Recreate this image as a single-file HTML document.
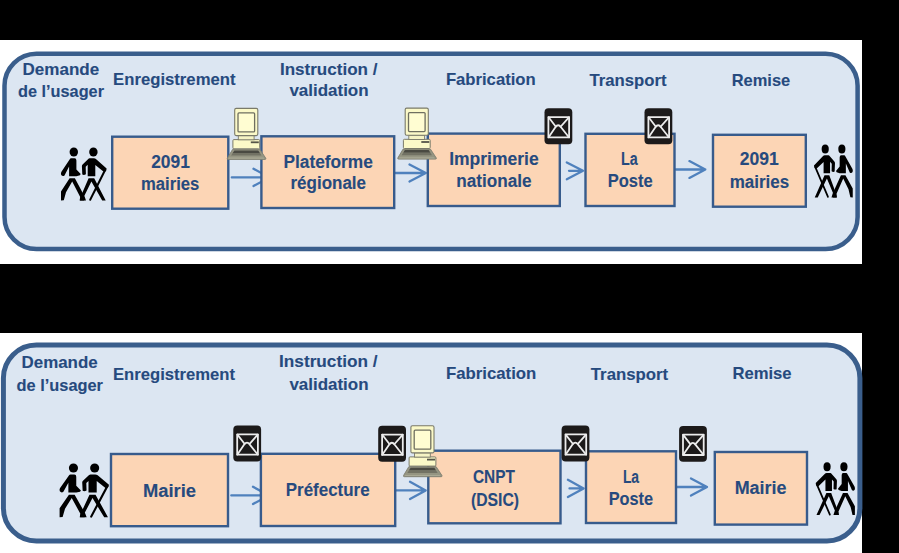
<!DOCTYPE html>
<html><head><meta charset="utf-8"><style>
html,body{margin:0;padding:0;background:#fff;width:899px;height:553px;overflow:hidden}
svg{display:block}
</style></head><body>
<svg width="899" height="553" viewBox="0 0 899 553">
<rect x="0" y="0" width="899" height="553" fill="#fff"/>
<rect x="0" y="0" width="899" height="40" fill="#000"/>
<rect x="0" y="264" width="899" height="69" fill="#000"/>
<rect x="862" y="0" width="37" height="553" fill="#000"/>
<rect x="4.5" y="53.7" width="853.1" height="195.3" rx="32" ry="32" fill="#dce6f2" stroke="#3a5e8c" stroke-width="4.5"/>
<rect x="3.4" y="345" width="856.5" height="196" rx="33" ry="33" fill="#dce6f2" stroke="#3a5e8c" stroke-width="5"/>
<path d="M231.8,177.4 L269.5,177.4 M253.5,168.8 L269.5,177.4 L253.5,186.0" fill="none" stroke="#4f81bd" stroke-width="2.3" stroke-linecap="round" stroke-linejoin="round"/>
<path d="M395.4,173.0 L425.8,173.0 M409.5,164.5 L425.8,173.0 L409.5,181.5" fill="none" stroke="#4f81bd" stroke-width="2.3" stroke-linecap="round" stroke-linejoin="round"/>
<path d="M569.0,170.8 L583.0,170.8 M566.8,162.4 L583.0,170.8 L566.8,179.20000000000002" fill="none" stroke="#4f81bd" stroke-width="2.3" stroke-linecap="round" stroke-linejoin="round"/>
<path d="M675.8,169.5 L705.3,169.5 M689.4,161.1 L705.3,169.5 L689.4,177.9" fill="none" stroke="#4f81bd" stroke-width="2.3" stroke-linecap="round" stroke-linejoin="round"/>
<path d="M231.3,495.4 L269.0,495.4 M253.0,486.79999999999995 L269.0,495.4 L253.0,504.0" fill="none" stroke="#4f81bd" stroke-width="2.3" stroke-linecap="round" stroke-linejoin="round"/>
<path d="M396.0,490.4 L425.7,490.4 M410.0,481.79999999999995 L425.7,490.4 L410.0,499.0" fill="none" stroke="#4f81bd" stroke-width="2.3" stroke-linecap="round" stroke-linejoin="round"/>
<path d="M569.5,488.4 L583.6,488.4 M567.9,479.79999999999995 L583.6,488.4 L567.9,497.0" fill="none" stroke="#4f81bd" stroke-width="2.3" stroke-linecap="round" stroke-linejoin="round"/>
<path d="M677.0,487.0 L707.0,487.0 M691.0,478.4 L707.0,487.0 L691.0,495.6" fill="none" stroke="#4f81bd" stroke-width="2.3" stroke-linecap="round" stroke-linejoin="round"/>
<rect x="112.2" y="136.7" width="116.1" height="72.0" fill="#fcd5b5" stroke="#375b8c" stroke-width="2.4"/>
<rect x="261.4" y="136.3" width="132.8" height="71.7" fill="#fcd5b5" stroke="#375b8c" stroke-width="2.4"/>
<rect x="427.8" y="133.6" width="132.0" height="72.4" fill="#fcd5b5" stroke="#375b8c" stroke-width="2.4"/>
<rect x="585.5" y="133.8" width="89.0" height="72.2" fill="#fcd5b5" stroke="#375b8c" stroke-width="2.4"/>
<rect x="713.0" y="134.8" width="92.8" height="71.9" fill="#fcd5b5" stroke="#375b8c" stroke-width="2.4"/>
<rect x="111.0" y="454.0" width="117.0" height="72.2" fill="#fcd5b5" stroke="#375b8c" stroke-width="2.4"/>
<rect x="260.9" y="453.8" width="134.3" height="72.2" fill="#fcd5b5" stroke="#375b8c" stroke-width="2.4"/>
<rect x="428.3" y="450.7" width="132.2" height="72.6" fill="#fcd5b5" stroke="#375b8c" stroke-width="2.4"/>
<rect x="586.0" y="451.3" width="90.0" height="71.7" fill="#fcd5b5" stroke="#375b8c" stroke-width="2.4"/>
<rect x="714.8" y="452.0" width="92.2" height="72.6" fill="#fcd5b5" stroke="#375b8c" stroke-width="2.4"/>
<g transform="translate(0,0)"><path d="M232.6,149.4 L259.9,149.4 L265.8,158.3 Q266.1,159.4 265,159.4 L228.1,159.4 Q227,159.4 227.3,158.3 Z" fill="#959582" stroke="#7e7e6f" stroke-width="0.9"/><path d="M234.4,150.4 L258.2,150.4 L259.9,153.1 L232.7,153.1 Z" fill="#4a4a42"/><path d="M232.7,153.1 L259.9,153.1 L261.5,155.6 L231.1,155.6 Z" fill="#727264"/><path d="M229.2,157.6 L263.6,157.6 L264.5,158.8 L228.4,158.8 Z" fill="#a9a995"/><rect x="232.9" y="139.6" width="26.8" height="9.2" rx="1" fill="#fbf9c8" stroke="#7a7a6a" stroke-width="1"/><rect x="250.8" y="141.4" width="8" height="1.8" fill="#55554a"/><rect x="238.3" y="135.5" width="15.8" height="4.3" fill="#f5f3c4" stroke="#7a7a6a" stroke-width="0.9"/><rect x="234.7" y="108.4" width="23.1" height="27.2" rx="1.5" fill="#fbf9c8" stroke="#7a7a6a" stroke-width="1.1"/><rect x="238" y="112.9" width="16.6" height="19" rx="1" fill="#fffdd2" stroke="#6f6f60" stroke-width="1.3"/></g>
<g transform="translate(170.5,-0.3)"><path d="M232.6,149.4 L259.9,149.4 L265.8,158.3 Q266.1,159.4 265,159.4 L228.1,159.4 Q227,159.4 227.3,158.3 Z" fill="#959582" stroke="#7e7e6f" stroke-width="0.9"/><path d="M234.4,150.4 L258.2,150.4 L259.9,153.1 L232.7,153.1 Z" fill="#4a4a42"/><path d="M232.7,153.1 L259.9,153.1 L261.5,155.6 L231.1,155.6 Z" fill="#727264"/><path d="M229.2,157.6 L263.6,157.6 L264.5,158.8 L228.4,158.8 Z" fill="#a9a995"/><rect x="232.9" y="139.6" width="26.8" height="9.2" rx="1" fill="#fbf9c8" stroke="#7a7a6a" stroke-width="1"/><rect x="250.8" y="141.4" width="8" height="1.8" fill="#55554a"/><rect x="238.3" y="135.5" width="15.8" height="4.3" fill="#f5f3c4" stroke="#7a7a6a" stroke-width="0.9"/><rect x="234.7" y="108.4" width="23.1" height="27.2" rx="1.5" fill="#fbf9c8" stroke="#7a7a6a" stroke-width="1.1"/><rect x="238" y="112.9" width="16.6" height="19" rx="1" fill="#fffdd2" stroke="#6f6f60" stroke-width="1.3"/></g>
<g transform="translate(176.2,317.3)"><path d="M232.6,149.4 L259.9,149.4 L265.8,158.3 Q266.1,159.4 265,159.4 L228.1,159.4 Q227,159.4 227.3,158.3 Z" fill="#959582" stroke="#7e7e6f" stroke-width="0.9"/><path d="M234.4,150.4 L258.2,150.4 L259.9,153.1 L232.7,153.1 Z" fill="#4a4a42"/><path d="M232.7,153.1 L259.9,153.1 L261.5,155.6 L231.1,155.6 Z" fill="#727264"/><path d="M229.2,157.6 L263.6,157.6 L264.5,158.8 L228.4,158.8 Z" fill="#a9a995"/><rect x="232.9" y="139.6" width="26.8" height="9.2" rx="1" fill="#fbf9c8" stroke="#7a7a6a" stroke-width="1"/><rect x="250.8" y="141.4" width="8" height="1.8" fill="#55554a"/><rect x="238.3" y="135.5" width="15.8" height="4.3" fill="#f5f3c4" stroke="#7a7a6a" stroke-width="0.9"/><rect x="234.7" y="108.4" width="23.1" height="27.2" rx="1.5" fill="#fbf9c8" stroke="#7a7a6a" stroke-width="1.1"/><rect x="238" y="112.9" width="16.6" height="19" rx="1" fill="#fffdd2" stroke="#6f6f60" stroke-width="1.3"/></g>
<g transform="translate(544.5,108.3)"><rect x="0" y="0" width="27.8" height="35.9" rx="4" fill="#1c1a1a"/><g fill="none" stroke="#ececec" stroke-width="1.8" stroke-linejoin="round" stroke-linecap="round"><rect x="3.9" y="8.8" width="20.7" height="20.3"/><path d="M4.1,28.9 L10.9,19.0 Q13.7,14.9 16.5,19.0 L24.4,28.9"/><path d="M4.1,9.0 L11.2,18.2 M24.4,9.0 L16.3,18.2"/></g></g>
<g transform="translate(644.5,108.3)"><rect x="0" y="0" width="27.8" height="35.9" rx="4" fill="#1c1a1a"/><g fill="none" stroke="#ececec" stroke-width="1.8" stroke-linejoin="round" stroke-linecap="round"><rect x="3.9" y="8.8" width="20.7" height="20.3"/><path d="M4.1,28.9 L10.9,19.0 Q13.7,14.9 16.5,19.0 L24.4,28.9"/><path d="M4.1,9.0 L11.2,18.2 M24.4,9.0 L16.3,18.2"/></g></g>
<g transform="translate(233.3,425.6)"><rect x="0" y="0" width="27.8" height="35.9" rx="4" fill="#1c1a1a"/><g fill="none" stroke="#ececec" stroke-width="1.8" stroke-linejoin="round" stroke-linecap="round"><rect x="3.9" y="8.8" width="20.7" height="20.3"/><path d="M4.1,28.9 L10.9,19.0 Q13.7,14.9 16.5,19.0 L24.4,28.9"/><path d="M4.1,9.0 L11.2,18.2 M24.4,9.0 L16.3,18.2"/></g></g>
<g transform="translate(378.2,425.8)"><rect x="0" y="0" width="27.8" height="35.9" rx="4" fill="#1c1a1a"/><g fill="none" stroke="#ececec" stroke-width="1.8" stroke-linejoin="round" stroke-linecap="round"><rect x="3.9" y="8.8" width="20.7" height="20.3"/><path d="M4.1,28.9 L10.9,19.0 Q13.7,14.9 16.5,19.0 L24.4,28.9"/><path d="M4.1,9.0 L11.2,18.2 M24.4,9.0 L16.3,18.2"/></g></g>
<g transform="translate(561.6,425.6)"><rect x="0" y="0" width="27.8" height="35.9" rx="4" fill="#1c1a1a"/><g fill="none" stroke="#ececec" stroke-width="1.8" stroke-linejoin="round" stroke-linecap="round"><rect x="3.9" y="8.8" width="20.7" height="20.3"/><path d="M4.1,28.9 L10.9,19.0 Q13.7,14.9 16.5,19.0 L24.4,28.9"/><path d="M4.1,9.0 L11.2,18.2 M24.4,9.0 L16.3,18.2"/></g></g>
<g transform="translate(679.1,425.9)"><rect x="0" y="0" width="27.8" height="35.9" rx="4" fill="#1c1a1a"/><g fill="none" stroke="#ececec" stroke-width="1.8" stroke-linejoin="round" stroke-linecap="round"><rect x="3.9" y="8.8" width="20.7" height="20.3"/><path d="M4.1,28.9 L10.9,19.0 Q13.7,14.9 16.5,19.0 L24.4,28.9"/><path d="M4.1,9.0 L11.2,18.2 M24.4,9.0 L16.3,18.2"/></g></g>
<g transform="" fill="#000"><ellipse cx="73.8" cy="152" rx="4.2" ry="4.5"/><path d="M71.2,158.3 L74.6,158.3 Q76.4,158.3 76.4,160.5 L76.4,169.4 L80.7,174.1 L79.9,175.3 L76.4,176.2 L69.1,176.2 L69.1,166.4 L64.5,175.4 Q62.8,176.8 61.2,175 Q60.6,173.4 61.3,172 L69.6,159.5 Q70.1,158.3 71.2,158.3 Z"/><path d="M69.6,178.2 L74.9,178.2 L84.6,196.6 L86,200.4 L79.6,200.4 L80.2,197 L72.2,181.6 L66,192.2 L63.8,200.3 L61,200.4 L61,191.6 Z"/><ellipse cx="93.4" cy="152" rx="4.2" ry="4.5"/><path d="M89.6,158.3 L93.8,158.3 Q95.3,158.3 96.2,159.2 L106.6,168.4 Q106.6,170.6 105.4,171.5 L103.4,171.6 L95.3,164.9 L95.3,176.2 L87.7,176.2 L87.7,164.8 L85.7,166.8 L85.9,174.2 Q84,175.4 82.3,174.5 L81.9,166.2 Q81.9,165.2 82.6,164.6 L88,159.2 Q88.8,158.3 89.6,158.3 Z"/><path d="M88.6,178.2 L94.2,178.2 L105.7,200.4 L102.2,200.4 L91.4,181.6 L84,196.5 L84.2,200.4 L80,200.4 L80.4,197.2 Z"/><path d="M104.6,171 L90.2,199.8" fill="none" stroke="#000" stroke-width="2" stroke-linecap="round"/></g>
<g transform="matrix(-0.85,0,0,1,904.6,-3)" fill="#000"><ellipse cx="73.8" cy="152" rx="4.2" ry="4.5"/><path d="M71.2,158.3 L74.6,158.3 Q76.4,158.3 76.4,160.5 L76.4,169.4 L80.7,174.1 L79.9,175.3 L76.4,176.2 L69.1,176.2 L69.1,166.4 L64.5,175.4 Q62.8,176.8 61.2,175 Q60.6,173.4 61.3,172 L69.6,159.5 Q70.1,158.3 71.2,158.3 Z"/><path d="M69.6,178.2 L74.9,178.2 L84.6,196.6 L86,200.4 L79.6,200.4 L80.2,197 L72.2,181.6 L66,192.2 L63.8,200.3 L61,200.4 L61,191.6 Z"/><ellipse cx="93.4" cy="152" rx="4.2" ry="4.5"/><path d="M89.6,158.3 L93.8,158.3 Q95.3,158.3 96.2,159.2 L106.6,168.4 Q106.6,170.6 105.4,171.5 L103.4,171.6 L95.3,164.9 L95.3,176.2 L87.7,176.2 L87.7,164.8 L85.7,166.8 L85.9,174.2 Q84,175.4 82.3,174.5 L81.9,166.2 Q81.9,165.2 82.6,164.6 L88,159.2 Q88.8,158.3 89.6,158.3 Z"/><path d="M88.6,178.2 L94.2,178.2 L105.7,200.4 L102.2,200.4 L91.4,181.6 L84,196.5 L84.2,200.4 L80,200.4 L80.4,197.2 Z"/><path d="M104.6,171 L90.2,199.8" fill="none" stroke="#000" stroke-width="2" stroke-linecap="round"/></g>
<g transform="matrix(1.082,0,0,1.017,-6.4,313.4)" fill="#000"><ellipse cx="73.8" cy="152" rx="4.2" ry="4.5"/><path d="M71.2,158.3 L74.6,158.3 Q76.4,158.3 76.4,160.5 L76.4,169.4 L80.7,174.1 L79.9,175.3 L76.4,176.2 L69.1,176.2 L69.1,166.4 L64.5,175.4 Q62.8,176.8 61.2,175 Q60.6,173.4 61.3,172 L69.6,159.5 Q70.1,158.3 71.2,158.3 Z"/><path d="M69.6,178.2 L74.9,178.2 L84.6,196.6 L86,200.4 L79.6,200.4 L80.2,197 L72.2,181.6 L66,192.2 L63.8,200.3 L61,200.4 L61,191.6 Z"/><ellipse cx="93.4" cy="152" rx="4.2" ry="4.5"/><path d="M89.6,158.3 L93.8,158.3 Q95.3,158.3 96.2,159.2 L106.6,168.4 Q106.6,170.6 105.4,171.5 L103.4,171.6 L95.3,164.9 L95.3,176.2 L87.7,176.2 L87.7,164.8 L85.7,166.8 L85.9,174.2 Q84,175.4 82.3,174.5 L81.9,166.2 Q81.9,165.2 82.6,164.6 L88,159.2 Q88.8,158.3 89.6,158.3 Z"/><path d="M88.6,178.2 L94.2,178.2 L105.7,200.4 L102.2,200.4 L91.4,181.6 L84,196.5 L84.2,200.4 L80,200.4 L80.4,197.2 Z"/><path d="M104.6,171 L90.2,199.8" fill="none" stroke="#000" stroke-width="2" stroke-linecap="round"/></g>
<g transform="matrix(-0.859,0,0,1,907.3,314.7)" fill="#000"><ellipse cx="73.8" cy="152" rx="4.2" ry="4.5"/><path d="M71.2,158.3 L74.6,158.3 Q76.4,158.3 76.4,160.5 L76.4,169.4 L80.7,174.1 L79.9,175.3 L76.4,176.2 L69.1,176.2 L69.1,166.4 L64.5,175.4 Q62.8,176.8 61.2,175 Q60.6,173.4 61.3,172 L69.6,159.5 Q70.1,158.3 71.2,158.3 Z"/><path d="M69.6,178.2 L74.9,178.2 L84.6,196.6 L86,200.4 L79.6,200.4 L80.2,197 L72.2,181.6 L66,192.2 L63.8,200.3 L61,200.4 L61,191.6 Z"/><ellipse cx="93.4" cy="152" rx="4.2" ry="4.5"/><path d="M89.6,158.3 L93.8,158.3 Q95.3,158.3 96.2,159.2 L106.6,168.4 Q106.6,170.6 105.4,171.5 L103.4,171.6 L95.3,164.9 L95.3,176.2 L87.7,176.2 L87.7,164.8 L85.7,166.8 L85.9,174.2 Q84,175.4 82.3,174.5 L81.9,166.2 Q81.9,165.2 82.6,164.6 L88,159.2 Q88.8,158.3 89.6,158.3 Z"/><path d="M88.6,178.2 L94.2,178.2 L105.7,200.4 L102.2,200.4 L91.4,181.6 L84,196.5 L84.2,200.4 L80,200.4 L80.4,197.2 Z"/><path d="M104.6,171 L90.2,199.8" fill="none" stroke="#000" stroke-width="2" stroke-linecap="round"/></g>
<g font-family="Liberation Sans, sans-serif" font-weight="bold" fill="#264a7e" stroke="#264a7e" stroke-width="0.1">
<text x="22.50" y="75.0" font-size="17" textLength="76.70" lengthAdjust="spacingAndGlyphs">Demande</text>
<text x="18.00" y="96.5" font-size="17" textLength="86.00" lengthAdjust="spacingAndGlyphs">de l’usager</text>
<text x="113.10" y="85.2" font-size="17" textLength="122.40" lengthAdjust="spacingAndGlyphs">Enregistrement</text>
<text x="279.90" y="75.0" font-size="17" textLength="97.60" lengthAdjust="spacingAndGlyphs">Instruction /</text>
<text x="289.40" y="95.7" font-size="17" textLength="79.20" lengthAdjust="spacingAndGlyphs">validation</text>
<text x="445.90" y="85.3" font-size="17" textLength="89.80" lengthAdjust="spacingAndGlyphs">Fabrication</text>
<text x="589.50" y="85.6" font-size="17" textLength="77.00" lengthAdjust="spacingAndGlyphs">Transport</text>
<text x="731.70" y="85.5" font-size="17" textLength="58.50" lengthAdjust="spacingAndGlyphs">Remise</text>
<text x="151.20" y="167.5" font-size="17.5" textLength="38.70" lengthAdjust="spacingAndGlyphs">2091</text>
<text x="141.00" y="190.3" font-size="17.5" textLength="58.30" lengthAdjust="spacingAndGlyphs">mairies</text>
<text x="283.40" y="167.6" font-size="17.5" textLength="89.50" lengthAdjust="spacingAndGlyphs">Plateforme</text>
<text x="290.50" y="189.1" font-size="17.5" textLength="75.50" lengthAdjust="spacingAndGlyphs">régionale</text>
<text x="449.20" y="165.1" font-size="17.5" textLength="89.50" lengthAdjust="spacingAndGlyphs">Imprimerie</text>
<text x="456.30" y="186.5" font-size="17.5" textLength="75.30" lengthAdjust="spacingAndGlyphs">nationale</text>
<text x="620.90" y="165.3" font-size="17.5" textLength="16.70" lengthAdjust="spacingAndGlyphs">La</text>
<text x="607.70" y="186.7" font-size="17.5" textLength="44.90" lengthAdjust="spacingAndGlyphs">Poste</text>
<text x="739.80" y="165.0" font-size="17.5" textLength="39.00" lengthAdjust="spacingAndGlyphs">2091</text>
<text x="729.70" y="187.8" font-size="17.5" textLength="59.50" lengthAdjust="spacingAndGlyphs">mairies</text>
<text x="21.50" y="367.5" font-size="17" textLength="76.20" lengthAdjust="spacingAndGlyphs">Demande</text>
<text x="16.50" y="391.0" font-size="17" textLength="86.50" lengthAdjust="spacingAndGlyphs">de l’usager</text>
<text x="113.00" y="379.5" font-size="17" textLength="122.00" lengthAdjust="spacingAndGlyphs">Enregistrement</text>
<text x="279.10" y="367.4" font-size="17" textLength="98.40" lengthAdjust="spacingAndGlyphs">Instruction /</text>
<text x="289.40" y="390.4" font-size="17" textLength="79.10" lengthAdjust="spacingAndGlyphs">validation</text>
<text x="445.90" y="379.4" font-size="17" textLength="90.40" lengthAdjust="spacingAndGlyphs">Fabrication</text>
<text x="590.80" y="379.5" font-size="17" textLength="77.40" lengthAdjust="spacingAndGlyphs">Transport</text>
<text x="732.40" y="379.1" font-size="17" textLength="59.20" lengthAdjust="spacingAndGlyphs">Remise</text>
<text x="142.90" y="496.9" font-size="17.5" textLength="53.10" lengthAdjust="spacingAndGlyphs">Mairie</text>
<text x="285.80" y="496.3" font-size="17.5" textLength="83.80" lengthAdjust="spacingAndGlyphs">Préfecture</text>
<text x="473.00" y="482.7" font-size="17.5" textLength="41.90" lengthAdjust="spacingAndGlyphs">CNPT</text>
<text x="470.90" y="505.5" font-size="17.5" textLength="48.10" lengthAdjust="spacingAndGlyphs">(DSIC)</text>
<text x="622.90" y="482.9" font-size="17.5" textLength="16.20" lengthAdjust="spacingAndGlyphs">La</text>
<text x="608.70" y="504.7" font-size="17.5" textLength="44.40" lengthAdjust="spacingAndGlyphs">Poste</text>
<text x="734.70" y="494.1" font-size="17.5" textLength="51.80" lengthAdjust="spacingAndGlyphs">Mairie</text>
</g>
</svg>
</body></html>
